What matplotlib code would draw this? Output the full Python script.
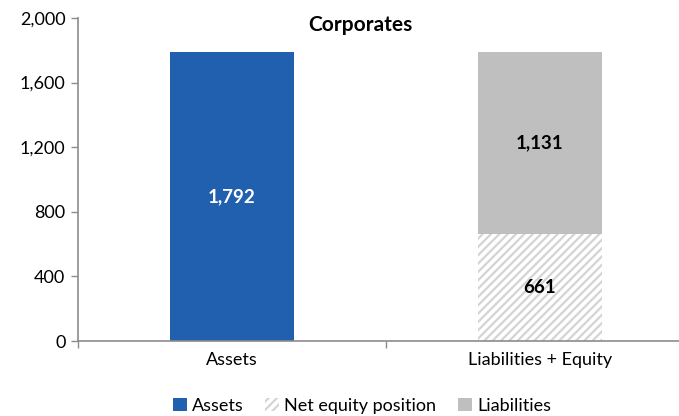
import matplotlib.pyplot as plt
from matplotlib.patches import Patch
import matplotlib.ticker as mticker

# Data
categories = ["Assets", "Liabilities + Equity"]
assets = [1792, 0]
net_equity = [0, 661]
liabilities = [0, 1131]

plt.rcParams['font.family'] = ['Lato', 'DejaVu Sans']
plt.rcParams['hatch.color'] = '#d4d4d4'
plt.rcParams['hatch.linewidth'] = 1.6

blue = '#2160ae'
grey = '#bfbfbf'
hatch_col = '#d4d4d4'
axis_col = '#8c8c8c'

fig = plt.figure(figsize=(6.79, 4.16), dpi=100)
ax = fig.add_axes([78 / 679, 75 / 416, 616 / 679, 323 / 416])

x = [0, 1]
w = 0.4
ax.bar(x[0], assets[0], w, color=blue)
ax.bar(x[1], net_equity[1], w, color='white', hatch='////', linewidth=0)
ax.bar(x[1], liabilities[1], w, bottom=net_equity[1], color=grey)

ax.text(x[0], assets[0] / 2, f"{assets[0]:,}", ha='center', va='center',
        color='white', fontsize=13.5, fontweight='bold')
ax.text(x[1], net_equity[1] / 2, f"{net_equity[1]:,}", ha='center', va='center',
        color='black', fontsize=13.5, fontweight='bold')
ax.text(x[1], net_equity[1] + liabilities[1] / 2, f"{liabilities[1]:,}",
        ha='center', va='center', color='black', fontsize=13.5, fontweight='bold')

ax.set_xlim(-0.5, 1.5)
ax.set_ylim(0, 2000)
ax.yaxis.set_major_locator(mticker.MultipleLocator(400))
ax.yaxis.set_major_formatter(mticker.FuncFormatter(lambda v, p: f"{int(v):,}"))

ax.set_xticks(x)
ax.set_xticklabels(categories)
ax.set_xticks([-0.5, 0.5, 1.5], minor=True)
ax.tick_params(axis='x', which='major', length=0, labelsize=13, pad=8)
ax.tick_params(axis='x', which='minor', length=5, color=axis_col, width=1)
ax.tick_params(axis='y', length=5, color=axis_col, width=1, labelsize=13, pad=4)

for s in ['top', 'right']:
    ax.spines[s].set_visible(False)
for s in ['left', 'bottom']:
    ax.spines[s].set_color(axis_col)
    ax.spines[s].set_linewidth(1.2)

fig.text(360 / 679, 1 - 25 / 416, "Corporates", ha='center', va='center',
         fontsize=15, fontweight='bold')

handles = [
    Patch(facecolor=blue, edgecolor='none', label='Assets'),
    Patch(facecolor='white', edgecolor=hatch_col, linewidth=0, hatch='////',
          label='Net equity position'),
    Patch(facecolor=grey, edgecolor='none', label='Liabilities'),
]
fig.legend(handles=handles, loc='center', bbox_to_anchor=(362 / 679, 1 - 406 / 416),
           ncol=3, frameon=False, fontsize=13, handlelength=0.75, handleheight=0.75,
           handletextpad=0.3, columnspacing=1.2, borderaxespad=0)

fig.savefig('out.png', dpi=100)
